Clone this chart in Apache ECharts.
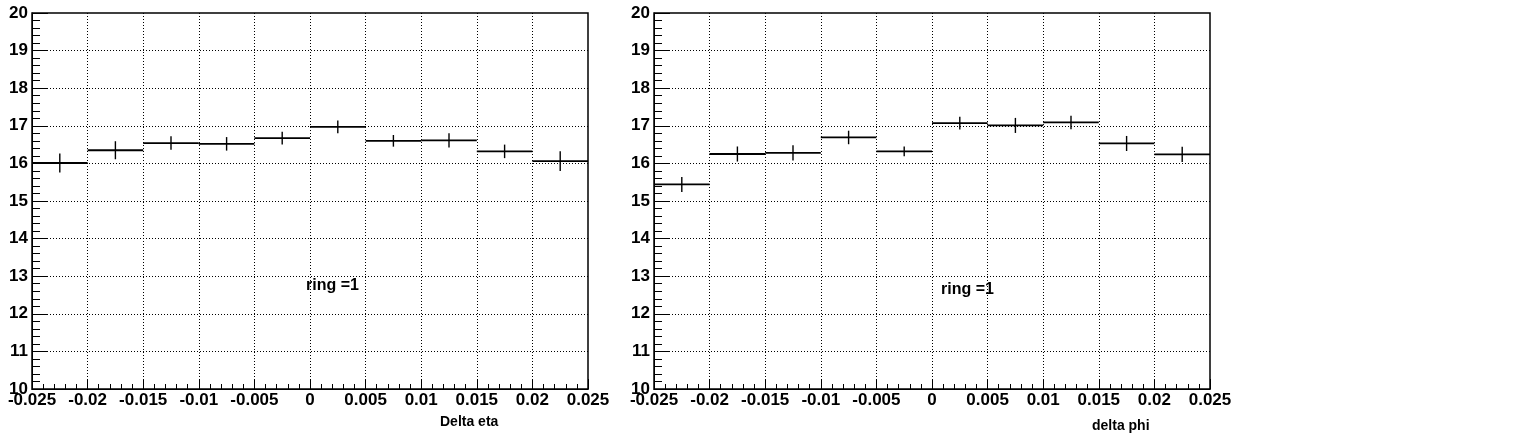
<!DOCTYPE html>
<html><head><meta charset="utf-8">
<script src="https://cdn.jsdelivr.net/npm/echarts@6/dist/echarts.min.js"></script>
<style>html,body{margin:0;padding:0;background:#fff}#c{width:1531px;height:446px}</style>
</head><body><div id="c"></div>
<script>
const binCenters = [-0.0225,-0.0175,-0.0125,-0.0075,-0.0025,0.0025,0.0075,0.0125,0.0175,0.0225];
const binWidth = 0.005;
const etaValues = [16.01,16.35,16.54,16.52,16.67,16.97,16.60,16.61,16.32,16.06];
const etaErrors = [0.25,0.24,0.18,0.18,0.17,0.17,0.155,0.19,0.18,0.26];
const phiValues = [15.44,16.25,16.28,16.69,16.32,17.07,17.01,17.09,16.53,16.24];
const phiErrors = [0.20,0.20,0.20,0.18,0.13,0.17,0.20,0.18,0.20,0.20];
const xTicks = [-0.025,-0.02,-0.015,-0.01,-0.005,0,0.005,0.01,0.015,0.02,0.025];
const yTicks = [10,11,12,13,14,15,16,17,18,19,20];
const panelTitles = ['Delta eta','delta phi'];
const annotation = 'ring =1';

const chart = echarts.init(document.getElementById('c'));
const font = 'Liberation Sans, Arial, sans-serif';

function xAxis(idx){
  return {
    type:'value', gridIndex:idx, min:-0.025, max:0.025, interval:0.005,
    axisLine:{show:true,onZero:false,lineStyle:{color:'#000',width:1}},
    axisTick:{show:true,inside:true,length:10,lineStyle:{color:'#000'}},
    minorTick:{show:true,splitNumber:5,length:5,lineStyle:{color:'#000'}},
    splitLine:{show:true,showMinLine:false,showMaxLine:false,lineStyle:{color:'#000',type:[1,2],width:1}},
    axisLabel:{color:'#000',fontFamily:font,fontWeight:'bold',fontSize:17,margin:3,
      showMinLabel:true,showMaxLabel:true,
      formatter:v=>{const r=xTicks.find(t=>Math.abs(t-v)<1e-9);return String(r===undefined?v:r);}}
  };
}
function yAxis(idx){
  return {
    type:'value', gridIndex:idx, min:10, max:20, interval:1,
    axisLine:{show:true,onZero:false,lineStyle:{color:'#000',width:1}},
    axisTick:{show:true,inside:true,length:16,lineStyle:{color:'#000'}},
    minorTick:{show:true,splitNumber:5,length:8,lineStyle:{color:'#000'}},
    splitLine:{show:true,showMinLine:false,showMaxLine:false,lineStyle:{color:'#000',type:[1,2],width:1}},
    axisLabel:{color:'#000',fontFamily:font,fontWeight:'bold',fontSize:17,margin:4,
      showMinLabel:true,showMaxLabel:true,
      formatter:v=>String(yTicks.find(t=>Math.abs(t-v)<1e-9)??v)}
  };
}
function histData(vals,errs){
  return binCenters.map((c,i)=>[c-binWidth/2,c+binWidth/2,vals[i],errs[i],c]);
}
function renderItem(params,api){
  const lo=api.value(0),hi=api.value(1),v=api.value(2),e=api.value(3),c=api.value(4);
  const p1=api.coord([lo,v]),p2=api.coord([hi,v]);
  const e1=api.coord([c,v-e]),e2=api.coord([c,v+e]);
  return {type:'group',children:[
    {type:'line',shape:{x1:p1[0],y1:p1[1],x2:p2[0],y2:p2[1]},style:{stroke:'#000',lineWidth:1.8}},
    {type:'line',shape:{x1:e1[0],y1:e1[1],x2:e2[0],y2:e2[1]},style:{stroke:'#000',lineWidth:1.4}}
  ]};
}
const titleStyle={fill:'#000',font:'bold 14px '+font};
const ringStyle={fill:'#000',font:'bold 16px '+font};
chart.setOption({
  animation:false,
  grid:[
    {left:32,top:13,width:556,height:376,show:true,borderColor:'#000',borderWidth:1.5,backgroundColor:'transparent'},
    {left:654,top:13,width:556,height:376,show:true,borderColor:'#000',borderWidth:1.5,backgroundColor:'transparent'}
  ],
  xAxis:[xAxis(0),xAxis(1)],
  yAxis:[yAxis(0),yAxis(1)],
  series:[
    {type:'custom',xAxisIndex:0,yAxisIndex:0,renderItem,data:histData(etaValues,etaErrors),encode:{x:[0,1,4],y:2},clip:true},
    {type:'custom',xAxisIndex:1,yAxisIndex:1,renderItem,data:histData(phiValues,phiErrors),encode:{x:[0,1,4],y:2},clip:true}
  ],
  graphic:[
    {type:'text',left:306,top:278,style:Object.assign({text:annotation},ringStyle)},
    {type:'text',left:941,top:282,style:Object.assign({text:annotation},ringStyle)},
    {type:'text',left:440,top:415,style:Object.assign({text:panelTitles[0]},titleStyle)},
    {type:'text',left:1092,top:419,style:Object.assign({text:panelTitles[1]},titleStyle)}
  ]
});
</script></body></html>
